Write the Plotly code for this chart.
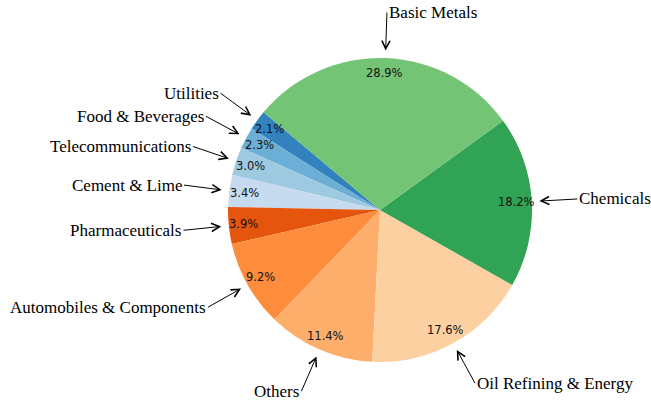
import numpy as np
import plotly.graph_objects as go

sectors = [
    "Utilities", "Food & Beverages", "Telecommunications", "Cement & Lime",
    "Pharmaceuticals", "Automobiles & Components", "Others",
    "Oil Refining & Energy", "Chemicals", "Basic Metals",
]
shares = [2.1, 2.3, 3.0, 3.4, 3.9, 9.2, 11.4, 17.6, 18.2, 28.9]
colors = [
    "#3182bd", "#6baed6", "#9ecae1", "#c6dbef",
    "#e6550d", "#fd8d3c", "#fdae6b", "#fdd0a2",
    "#31a354", "#74c476",
]

start_angle = 140  # degrees, counterclockwise from 3 o'clock
W, H = 651, 404
margin = dict(l=228, r=119, t=58, b=42)
radius_px = (H - margin["t"] - margin["b"]) / 2

vals = np.array(shares)
frac = vals / vals.sum()

# plotly's counterclockwise pie puts the first slice clockwise of `rotation`,
# so shift by the first slice's width to start it at start_angle
rotation = 90 - start_angle - 360 * frac[0]

fig = go.Figure(go.Pie(
    labels=sectors,
    values=shares,
    marker=dict(colors=colors, line=dict(width=0)),
    sort=False,
    direction="counterclockwise",
    rotation=rotation,
    textinfo="none",
    showlegend=False,
))

# mid angle of each wedge
ends = start_angle + 360 * np.cumsum(frac)
mids = np.radians(ends - 180 * frac)

annotations = []
for name, val, th in zip(sectors, vals, mids):
    c, s = np.cos(th), np.sin(th)
    # percentage label inside the wedge
    annotations.append(dict(
        x=0.5 + 0.5 * 0.9 * c, y=0.5 + 0.5 * 0.9 * s,
        xref="paper", yref="paper", showarrow=False,
        text=f"{val / vals.sum() * 100:.1f}%",
        font=dict(family="DejaVu Sans", size=11.5, color="#111111"),
        xanchor="center", yanchor="middle",
    ))
    # outer sector name with arrow
    annotations.append(dict(
        x=0.5 + 0.5 * 1.05 * c, y=0.5 + 0.5 * 1.05 * s,
        xref="paper", yref="paper",
        ax=(1.3 - 1.05) * radius_px * c, ay=-(1.3 - 1.05) * radius_px * s,
        axref="pixel", ayref="pixel",
        showarrow=True, arrowhead=5, arrowsize=1.6, arrowwidth=1,
        arrowcolor="black",
        text=name,
        font=dict(family="Liberation Serif", size=17, color="black"),
        xanchor="left" if c > 0 else "right", yanchor="middle",
    ))

fig.update_layout(
    width=W, height=H,
    margin=margin,
    paper_bgcolor="white",
    plot_bgcolor="white",
    annotations=annotations,
)

# drop the browser's default 8px body margin so the figure fills the window
fig.write_html(
    "out.html",
    config={"displayModeBar": False},
    post_script="document.body.style.margin='0';",
)
